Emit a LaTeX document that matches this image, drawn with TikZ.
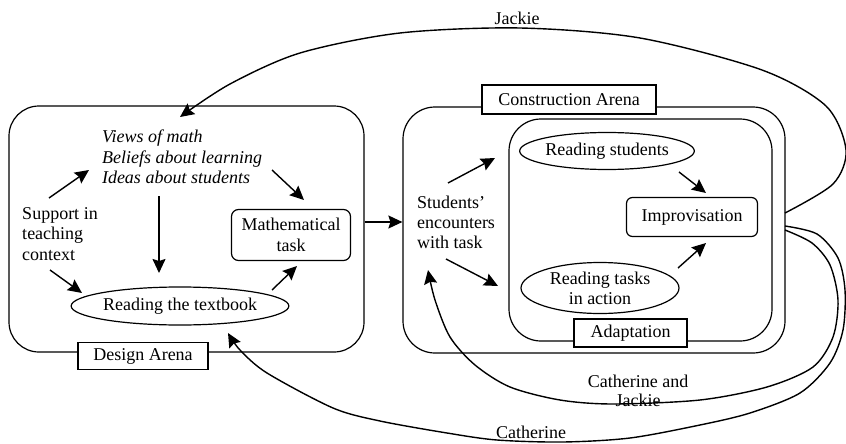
\documentclass[tikz,border=0pt]{standalone}
\usepackage{fontspec}
\setmainfont{Liberation Serif}
\usetikzlibrary{shapes.geometric,arrows.meta}

\begin{document}
\begin{tikzpicture}[x=1pt,y=-1pt,line width=1.2pt,
		every node/.style={font=\fontsize{18}{20.5}\selectfont},
		labelbox/.style={draw,fill=white,inner sep=0pt},
		readbox/.style={draw,ellipse,inner sep=0pt},
		arr/.style={-{Stealth[length=14pt,width=13pt,inset=2pt]},line width=1.4pt},
		curve/.style={-{Stealth[length=14pt,width=13pt,inset=2pt]},line width=1.4pt}]
			\useasboundingbox (0,0) rectangle (846,444);
			
			% arenas
			\node[draw,rounded corners=30pt,minimum width=355pt,minimum height=246pt] (design) at (186.5,229) {};
			\node[draw,rounded corners=32pt,minimum width=382pt,minimum height=246pt] (construct) at (594,230) {};
			\node[draw,rounded corners=32pt,minimum width=263pt,minimum height=222pt] (adapt) at (640.5,230) {};
			
			\node[labelbox,minimum width=130pt,minimum height=27pt] (designlbl) at (143,356) {Design Arena};
			\node[labelbox,minimum width=174pt,minimum height=29pt] (constructlbl) at (569,99.5) {Construction Arena};
			\node[labelbox,minimum width=113pt,minimum height=28pt] (adaptlbl) at (630.5,333) {Adaptation};
			
			% design arena
			\node[align=left,font=\fontsize{18}{20.5}\selectfont\itshape] (views) at (182,157) {Views of math\\Beliefs about learning\\Ideas about students};
			\node[align=left] (support) at (60,234) {Support in\\teaching\\context};
			\node[readbox,minimum width=211pt,minimum height=38pt] (textbook) at (180,306) {Reading the textbook};
			\node[draw,rounded corners=7pt,align=center,minimum width=119pt,minimum height=51pt,inner sep=0pt] (task) at (291,235) {Mathematical\\task};
			
			% construction arena
			\node[align=left,font=\fontsize{18}{20}\selectfont] (encounter) at (456,222) {Students'\\encounters\\with task};
			\node[readbox,minimum width=172pt,minimum height=37pt] (rstudents) at (607,151) {Reading students};
			\node[readbox,align=center,minimum width=158pt,minimum height=51pt,font=\fontsize{18}{20}\selectfont] (rtasks) at (600,288) {Reading tasks\\in action};
			\node[draw,rounded corners=6pt,minimum width=131pt,minimum height=39pt,inner sep=0pt] (improv) at (692,217) {Improvisation};
			
			\draw[arr] ([shift={(-11,-36)}]support.center) -- ([shift={(-93,13)}]views.center);
			\draw[arr] ([shift={(90,13)}]views.center) -- ([shift={(13,-35)}]task.center);
			\draw[arr] ([shift={(-23,39)}]views.center) -- ([shift={(-21,-33)}]textbook.center);
			\draw[arr] ([shift={(-10,36)}]support.center) -- ([shift={(-98,-13)}]textbook.center);
			\draw[arr] ([shift={(92,-16)}]textbook.center) -- ([shift={(6,31)}]task.center);
			\draw[arr] ([shift={(0,-7)}]design.east) -- ([shift={(0,-8)}]construct.west);
			
			\draw[arr] ([shift={(-8,-39)}]encounter.center) -- ([shift={(-112,7)}]rstudents.center);
			\draw[arr] ([shift={(-10,37)}]encounter.center) -- ([shift={(-102,-2)}]rtasks.center);
			\draw[arr] ([shift={(72,21)}]rstudents.center) -- ([shift={(14,-24)}]improv.center);
			\draw[arr] ([shift={(78,-20)}]rtasks.center) -- ([shift={(14,26)}]improv.center);
			
			% who went where
			\draw[curve] plot[smooth] coordinates {([shift={(191,-17)}]construct.center) (833,184) (846,150) (826,106) (762,70) (640,38) (520,28) (400,33) (300,53) (230,84) ([shift={(-2,-40)}]views.center)};
			\draw[curve] plot[smooth] coordinates {([shift={(191,0)}]construct.center) (812,243) (830,265) (838,300) (833,337) (813,367) (767,387) (700,400) (613,404) (560,400) (510,387) (475,365) (450,337) (435,300) ([shift={(-28,48)}]encounter.center)};
			\draw[curve] plot[smooth] coordinates {([shift={(191,-4)}]construct.center) (817,234) (838,258) (845,290) (843,330) (830,363) (800,393) (750,413) (700,425) (630,438) (563,442) (497,440) (447,433) (380,421) (333,408) (267,373) (240,350) ([shift={(48,27)}]textbook.center)};
			
			\node (jackie) at (517,18) {Jackie};
			\node[align=center,font=\fontsize{18}{19}\selectfont] (both) at (638,391) {Catherine and\\Jackie};
			\node (catherine) at (531,432) {Catherine};
		\end{tikzpicture}
\end{document}
